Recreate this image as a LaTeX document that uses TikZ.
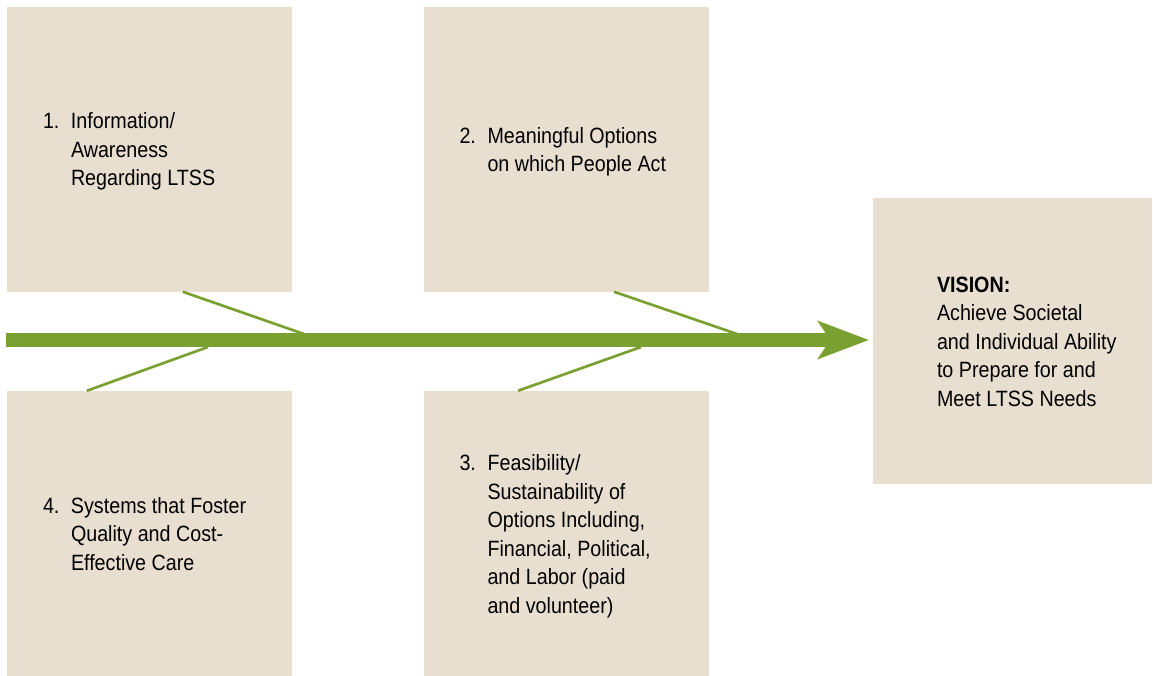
\documentclass[tikz,border=0pt]{standalone}
\usepackage{fontspec}
\setmainfont[FakeStretch=0.89]{Liberation Sans}
\usetikzlibrary{positioning,arrows.meta}
\definecolor{boxtan}{RGB}{232,223,209}
\definecolor{spinegreen}{RGB}{121,160,48}

\begin{document}
\begin{tikzpicture}[x=0.75pt,y=-0.75pt]
\tikzstyle{box}=[rectangle, fill=boxtan, inner sep=0pt,
	minimum width=213.75pt, minimum height=213.75pt,
]
\tikzstyle{txt}=[anchor=west, inner sep=0pt, align=left, yshift=-2pt,
	font=\fontsize{16.6pt}{21.4pt}\selectfont,
]
\tikzstyle{spine}=[spinegreen, line width=10pt,
	-{Stealth[length=38pt, width=28pt, inset=9pt]},
]
\tikzstyle{branch}=[spinegreen, line width=2pt]
\useasboundingbox (0,0) rectangle (1153,675);

\node[box] (b1) at (149.5,149) {};
\node[box, right=98.25pt of b1] (b2) {};
\node[box, below=74.25pt of b1] (b4) {};
\node[box, right=98.25pt of b4] (b3) {};
\node[box, minimum width=209.25pt, minimum height=214.5pt] (vision) at (1012.5,341) {};

\node[txt, right=27pt of b1.west] (t1) {\begin{tabular}{@{}p{21pt}@{}l@{}}
1. & Information/\\ & Awareness\\ & Regarding LTSS\end{tabular}};
\node[txt, right=27pt of b2.west] (t2) {\begin{tabular}{@{}p{21pt}@{}l@{}}
2. & Meaningful Options\\ & on which People Act\end{tabular}};
\node[txt, right=27pt of b3.west] (t3) {\begin{tabular}{@{}p{21pt}@{}l@{}}
3. & Feasibility/\\ & Sustainability of\\ & Options Including,\\
 & Financial, Political,\\ & and Labor (paid\\ & and volunteer)\end{tabular}};
\node[txt, right=27pt of b4.west] (t4) {\begin{tabular}{@{}p{21pt}@{}l@{}}
4. & Systems that Foster\\ & Quality and Cost-\\ & Effective Care\end{tabular}};
\node[txt, right=48pt of vision.west] (tv) {\begin{tabular}{@{}l@{}}
\textbf{VISION:}\\ Achieve Societal\\ and Individual Ability\\
to Prepare for and\\ Meet LTSS Needs\end{tabular}};

% spine and bones
\coordinate (tail) at (6,340);
\coordinate (head) at (869,340);
\coordinate (j1) at (304,334);
\coordinate (j4) at (208,347);
\coordinate (j2) at (737,334);
\coordinate (j3) at (641,347);
\draw[spine] (tail) -- (head);
\draw[branch] ([xshift=25pt]b1.south) -- (j1);
\draw[branch] ([xshift=-47pt]b4.north) -- (j4);
\draw[branch] ([xshift=36pt]b2.south) -- (j2);
\draw[branch] ([xshift=-36pt]b3.north) -- (j3);

\end{tikzpicture}
\end{document}
